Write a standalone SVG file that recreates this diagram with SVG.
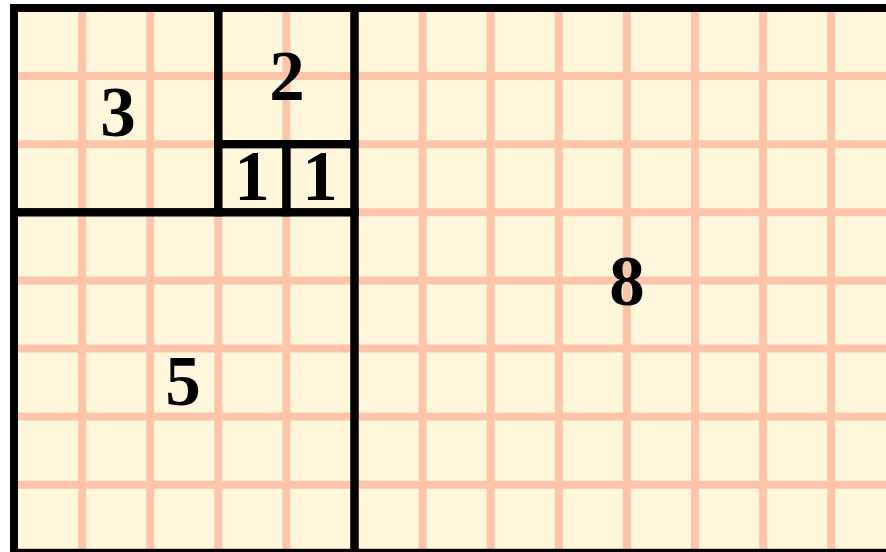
<svg xmlns="http://www.w3.org/2000/svg" width="886" height="552" viewBox="0 0 886 552">
  <style>
    .grid line { stroke: #FFC5AA; stroke-width: 8; }
    .sq { fill: none; stroke: #000; stroke-width: 8; }
    .lbl { font-family: "Liberation Serif", "Times New Roman", serif; font-weight: bold; font-size: 71px; text-anchor: middle; fill: #000; }
  </style>
  <rect x="0" y="0" width="886" height="552" fill="#FFFFFF"/>
  <rect x="14" y="8" width="890" height="550" fill="#FFF7DC"/>
  <g class="grid">
    <line x1="82.1" y1="8" x2="82.1" y2="552"/>
    <line x1="150.2" y1="8" x2="150.2" y2="552"/>
    <line x1="218.3" y1="8" x2="218.3" y2="552"/>
    <line x1="286.4" y1="8" x2="286.4" y2="552"/>
    <line x1="354.5" y1="8" x2="354.5" y2="552"/>
    <line x1="422.6" y1="8" x2="422.6" y2="552"/>
    <line x1="490.7" y1="8" x2="490.7" y2="552"/>
    <line x1="558.8" y1="8" x2="558.8" y2="552"/>
    <line x1="626.9" y1="8" x2="626.9" y2="552"/>
    <line x1="695" y1="8" x2="695" y2="552"/>
    <line x1="763.1" y1="8" x2="763.1" y2="552"/>
    <line x1="831.2" y1="8" x2="831.2" y2="552"/>
    <line x1="14" y1="76.1" x2="886" y2="76.1"/>
    <line x1="14" y1="144.2" x2="886" y2="144.2"/>
    <line x1="14" y1="212.3" x2="886" y2="212.3"/>
    <line x1="14" y1="280.4" x2="886" y2="280.4"/>
    <line x1="14" y1="348.5" x2="886" y2="348.5"/>
    <line x1="14" y1="416.6" x2="886" y2="416.6"/>
    <line x1="14" y1="484.7" x2="886" y2="484.7"/>
  </g>
  <g id="sq8">
    <rect class="sq" x="354.5" y="8" width="544.8" height="544.8"/>
    <text class="lbl" x="627" y="305">8</text>
  </g>
  <g id="sq5">
    <rect class="sq" x="14" y="212.3" width="340.5" height="340.5"/>
    <text class="lbl" x="183" y="405">5</text>
  </g>
  <g id="sq3">
    <rect class="sq" x="14" y="8" width="204.3" height="204.3"/>
    <text class="lbl" x="118" y="136">3</text>
  </g>
  <g id="sq2">
    <rect class="sq" x="218.3" y="8" width="136.2" height="136.2"/>
    <text class="lbl" x="287" y="100">2</text>
  </g>
  <g id="sq1a">
    <rect class="sq" x="218.3" y="144.2" width="68.1" height="68.1"/>
    <text class="lbl" x="252" y="200">1</text>
  </g>
  <g id="sq1b">
    <rect class="sq" x="286.4" y="144.2" width="68.1" height="68.1"/>
    <text class="lbl" x="320" y="200">1</text>
  </g>
</svg>
